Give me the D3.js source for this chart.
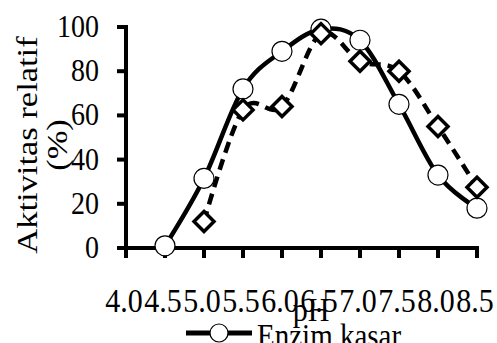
<!DOCTYPE html>
<html>
<head>
<meta charset="utf-8">
<script src="https://cdn.jsdelivr.net/npm/d3@7"></script>
<style>
  body { margin: 0; background: #fff; }
</style>
</head>
<body>
<div id="main"></div>
<script>
// data
var phValues = [4.5, 5.0, 5.5, 6.0, 6.5, 7.0, 7.5, 8.0, 8.5]
var enzimKasar = [1, 31.5, 72, 89, 99, 94, 65, 33, 18]
var phMurni = [5.0, 5.5, 6.0, 6.5, 7.0, 7.5, 8.0, 8.5]
var enzimMurni = [12, 62.5, 64, 97, 84.5, 80, 55, 27.5]
var xTicks = [4.0, 4.5, 5.0, 5.5, 6.0, 6.5, 7.0, 7.5, 8.0, 8.5]
var yTicks = [0, 20, 40, 60, 80, 100]

var dimensions = { width: 497, height: 343 }
var stretch = 1.15
var serif = "'Liberation Serif', 'Times New Roman', Times, serif"

var svg = d3.select("#main")
            .append("svg")
            .attr("width", dimensions.width)
            .attr("height", dimensions.height)

var x = d3.scaleLinear().domain([4.0, 8.5]).range([126, 477])
var y = d3.scaleLinear().domain([0, 100]).range([248, 27])

// stretched text like the original picture
function label(g, tx, ty, str, size, anchor, rot) {
  return g.append("text")
          .attr("transform", "translate(" + tx + "," + ty + ") scale(1," + stretch + ")" + (rot ? " rotate(" + rot + ")" : ""))
          .attr("text-anchor", anchor)
          .attr("font-family", serif)
          .attr("font-size", size)
          .attr("fill", "#000")
          .text(str)
}

// y axis
var yAxis = svg.append("g")
yAxis.append("line")
     .attr("x1", x(4.0)).attr("x2", x(4.0))
     .attr("y1", y(100) - 2).attr("y2", y(0) + 2)
     .attr("stroke", "#000").attr("stroke-width", 4)
yTicks.forEach(function(t) {
  yAxis.append("line")
       .attr("x1", x(4.0) - 9).attr("x2", x(4.0))
       .attr("y1", y(t)).attr("y2", y(t))
       .attr("stroke", "#000").attr("stroke-width", 4)
  label(yAxis, 99, y(t) + 10, t, 28, "end")
})

// x axis
var xAxis = svg.append("g")
xAxis.append("line")
     .attr("x1", x(4.0) - 9).attr("x2", x(8.5) + 2)
     .attr("y1", y(0)).attr("y2", y(0))
     .attr("stroke", "#000").attr("stroke-width", 4)
xTicks.forEach(function(t) {
  xAxis.append("line")
       .attr("x1", x(t)).attr("x2", x(t))
       .attr("y1", y(0)).attr("y2", y(0) + 10)
       .attr("stroke", "#000").attr("stroke-width", 4)
  label(xAxis, x(t) - 2, 312, t.toFixed(1), 30, "middle")
})

label(svg, 311, 321, "pH", 30, "middle")
label(svg, 37, 145, "Aktivitas relatif", 30, "middle", -90)
label(svg, 67, 145, "(%)", 30, "middle", -90)

var line = d3.line().curve(d3.curveCardinal.tension(0))

// Enzim kasar, solid with circles
svg.append("path")
   .attr("d", line(phValues.map(function(d, i) { return [x(d), y(enzimKasar[i])] })))
   .attr("fill", "none").attr("stroke", "#000").attr("stroke-width", 4.5)
svg.append("g").selectAll("circle")
   .data(phValues)
   .enter()
   .append("circle")
   .attr("cx", function(d) { return x(d) })
   .attr("cy", function(d, i) { return y(enzimKasar[i]) })
   .attr("r", 10)
   .style("fill", "#fff")
   .style("stroke", "#000")
   .style("stroke-width", 1.2)

// second series, dashed with diamonds
svg.append("path")
   .attr("d", line(phMurni.map(function(d, i) { return [x(d), y(enzimMurni[i])] })))
   .attr("fill", "none").attr("stroke", "#000").attr("stroke-width", 4.5)
   .attr("stroke-dasharray", "11,7")
svg.append("g").selectAll("path")
   .data(phMurni)
   .enter()
   .append("path")
   .attr("d", "M0,-10L10,0L0,10L-10,0Z")
   .attr("transform", function(d, i) { return "translate(" + x(d) + "," + y(enzimMurni[i]) + ")" })
   .style("fill", "#fff")
   .style("stroke", "#000")
   .style("stroke-width", 3.5)

// legend (cut off at the bottom like the original)
var legend = svg.append("g")
legend.append("line")
      .attr("x1", 186).attr("x2", 252)
      .attr("y1", 333).attr("y2", 333)
      .attr("stroke", "#000").attr("stroke-width", 5)
legend.append("circle")
      .attr("cx", 219).attr("cy", 333).attr("r", 9)
      .style("fill", "#fff").style("stroke", "#000").style("stroke-width", 1.2)
label(legend, 257, 347, "Enzim kasar", 29, "start")
</script>
</body>
</html>
